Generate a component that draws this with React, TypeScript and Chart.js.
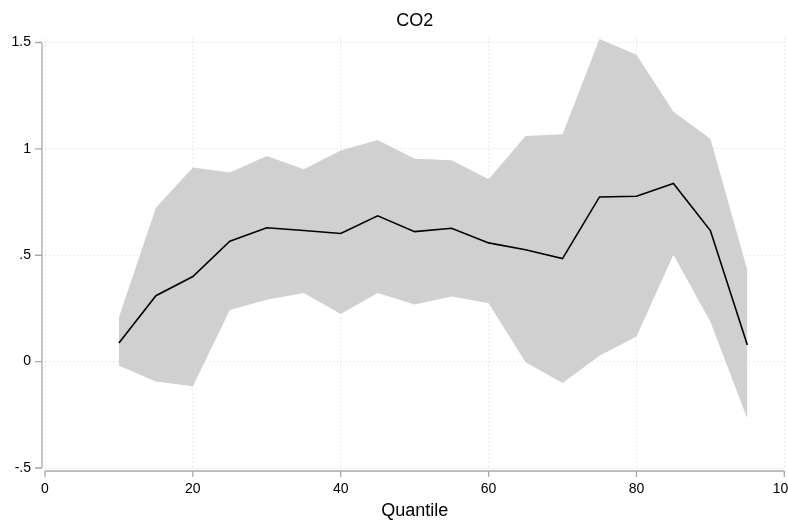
import React, { useEffect, useRef } from "react";
import { Chart, registerables } from "chart.js";

Chart.register(...registerables);

const quantiles = [10, 15, 20, 25, 30, 35, 40, 45, 50, 55, 60, 65, 70, 75, 80, 85, 90, 95];
const estimate = [0.088, 0.31, 0.4, 0.566, 0.629, 0.616, 0.602, 0.685, 0.611, 0.627, 0.558, 0.526, 0.484, 0.774, 0.777, 0.837, 0.616, 0.078];
const upperCI = [0.208, 0.723, 0.913, 0.889, 0.967, 0.904, 0.992, 1.042, 0.953, 0.946, 0.857, 1.061, 1.069, 1.517, 1.442, 1.175, 1.047, 0.431];
const lowerCI = [-0.019, -0.094, -0.116, 0.243, 0.291, 0.323, 0.224, 0.323, 0.269, 0.306, 0.274, -0.003, -0.1, 0.028, 0.118, 0.502, 0.188, -0.269];
const xTicks = [0, 20, 40, 60, 80, 100];
const yTicks = [-0.5, 0, 0.5, 1, 1.5];

const FONT = "'Liberation Sans', Arial, Helvetica, sans-serif";
const AXIS_COLOR = "#a8a8a8";

const fmtY = (v: number) => {
  if (v === 0) return "0";
  const s = String(v);
  return s.replace(/^0\./, ".").replace(/^-0\./, "-.");
};

const axisPlugin = {
  id: "stataAxes",
  afterDraw(chart: any) {
    const { ctx, chartArea, scales } = chart;
    const xs = scales.x;
    const ys = scales.y;
    ctx.save();
    ctx.strokeStyle = AXIS_COLOR;
    ctx.lineWidth = 1.3;
    ctx.setLineDash([]);
    const axX = chartArea.left - 3;
    const axY = chartArea.bottom + 3;
    // y axis
    ctx.beginPath();
    ctx.moveTo(axX, ys.getPixelForValue(yTicks[yTicks.length - 1]));
    ctx.lineTo(axX, ys.getPixelForValue(yTicks[0]));
    for (const v of yTicks) {
      const p = ys.getPixelForValue(v);
      ctx.moveTo(axX - 7, p);
      ctx.lineTo(axX, p);
    }
    ctx.stroke();
    // x axis
    ctx.beginPath();
    ctx.moveTo(xs.getPixelForValue(xTicks[0]), axY);
    ctx.lineTo(xs.getPixelForValue(xTicks[xTicks.length - 1]), axY);
    for (const v of xTicks) {
      const p = xs.getPixelForValue(v);
      ctx.moveTo(p, axY);
      ctx.lineTo(p, axY + 6);
    }
    ctx.stroke();
    ctx.restore();
  },
};

export default function App() {
  const ref = useRef<HTMLCanvasElement | null>(null);

  useEffect(() => {
    if (!ref.current) return;
    const chart = new Chart(ref.current, {
      type: "line",
      data: {
        datasets: [
          {
            label: "Estimate",
            data: quantiles.map((q, i) => ({ x: q, y: estimate[i] })),
            borderColor: "#000000",
            borderWidth: 1.6,
            pointRadius: 0,
            fill: false,
            tension: 0,
          },
          {
            label: "Upper",
            data: quantiles.map((q, i) => ({ x: q, y: upperCI[i] })),
            borderWidth: 0,
            borderColor: "rgba(0,0,0,0)",
            backgroundColor: "#d0d0d0",
            pointRadius: 0,
            fill: "+1",
            tension: 0,
          },
          {
            label: "Lower",
            data: quantiles.map((q, i) => ({ x: q, y: lowerCI[i] })),
            borderWidth: 0,
            borderColor: "rgba(0,0,0,0)",
            backgroundColor: "#d0d0d0",
            pointRadius: 0,
            fill: false,
            tension: 0,
          },
        ],
      },
      options: {
        responsive: false,
        animation: false,
        devicePixelRatio: 1,
        layout: { padding: { top: 0, right: 20, bottom: 0, left: 0 } },
        plugins: {
          legend: { display: false },
          tooltip: { enabled: false },
          title: {
            display: true,
            text: "CO2",
            color: "#000000",
            fullSize: false,
            font: { family: FONT, size: 18, weight: "normal" },
            padding: { top: 10, bottom: 6 },
          },
        },
        scales: {
          x: {
            type: "linear",
            min: 0,
            max: 100,
            afterFit: (s: any) => {
              s.height = 54;
            },
            afterBuildTicks: (s: any) => {
              s.ticks = xTicks.map((v) => ({ value: v }));
            },
            ticks: {
              color: "#000000",
              font: { family: FONT, size: 14 },
              padding: 13,
              maxRotation: 0,
              callback: (v: any) => String(v),
            },
            grid: { color: "#d8d8d8", lineWidth: 1, drawTicks: false },
            border: { display: false, dash: [1, 3] },
            title: {
              display: true,
              text: "Quantile",
              color: "#000000",
              font: { family: FONT, size: 18 },
              padding: { top: 0, bottom: 0 },
            },
          },
          y: {
            type: "linear",
            min: -0.5,
            max: 1.523,
            afterFit: (s: any) => {
              s.width = 45;
            },
            afterBuildTicks: (s: any) => {
              s.ticks = yTicks.map((v) => ({ value: v }));
            },
            ticks: {
              color: "#000000",
              font: { family: FONT, size: 14 },
              padding: 14,
              callback: (v: any) => fmtY(Number(v)),
            },
            grid: { color: "#d8d8d8", lineWidth: 1, drawTicks: false },
            border: { display: false, dash: [1, 3] },
          },
        },
      } as any,
      plugins: [axisPlugin],
    });
    return () => chart.destroy();
  }, []);

  return (
    <div
      style={{
        position: "fixed",
        left: 0,
        top: 0,
        width: 788,
        height: 522,
        overflow: "hidden",
        background: "#ffffff",
      }}
    >
      <canvas ref={ref} width={809} height={522} style={{ width: 809, height: 522, display: "block" }} />
    </div>
  );
}
